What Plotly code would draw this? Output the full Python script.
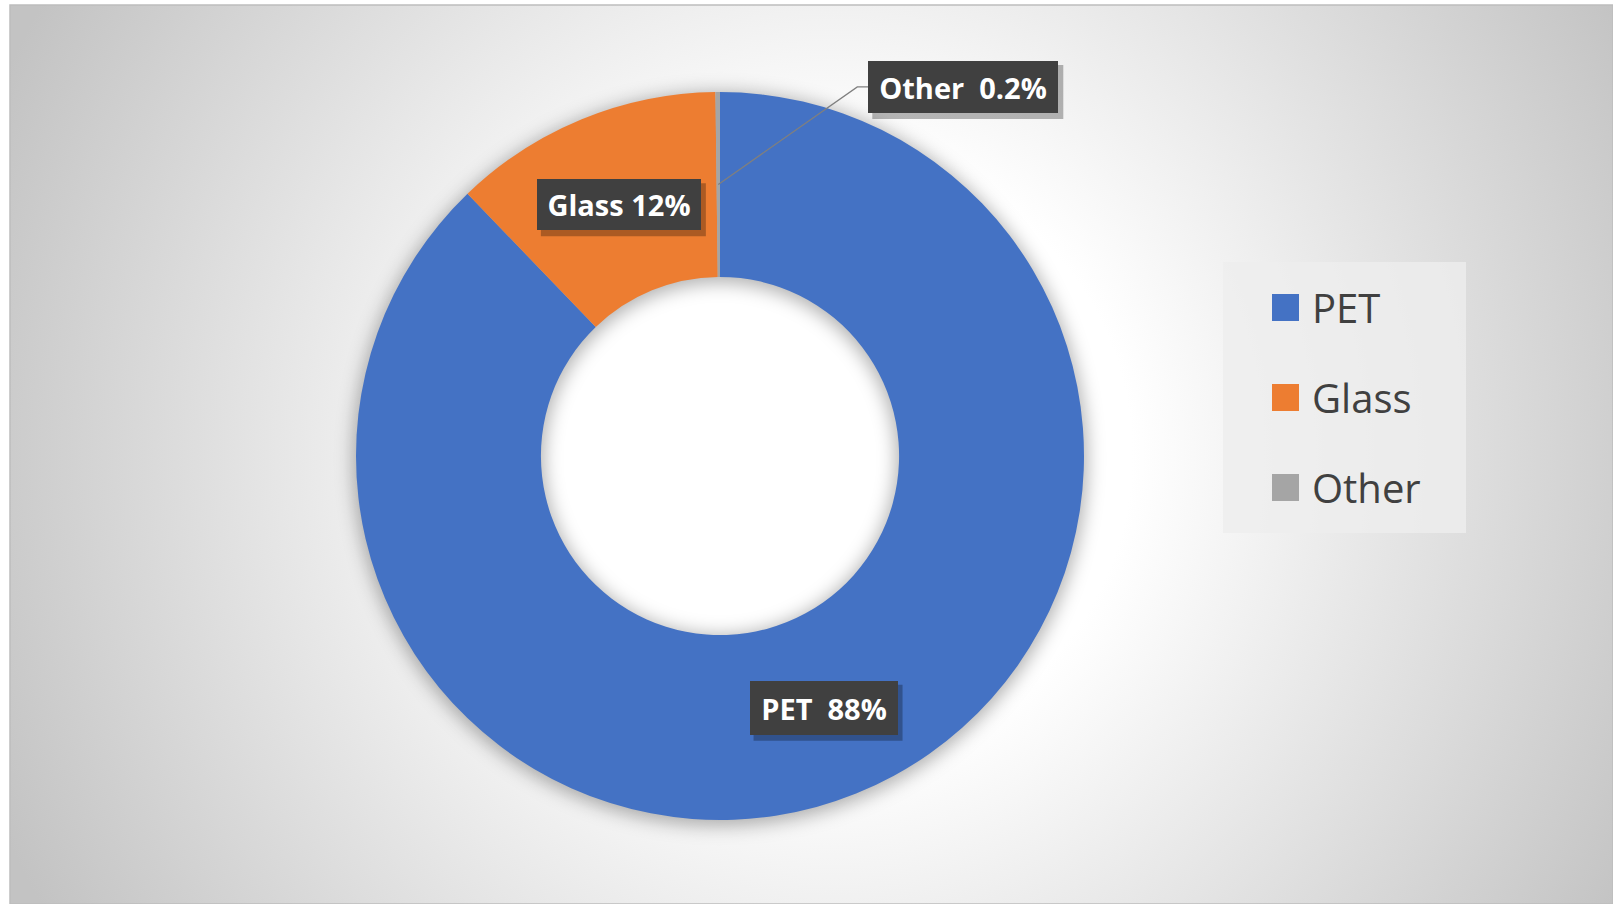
import math
import base64
import plotly.graph_objects as go

# ---------------- data ----------------
categories = ["PET", "Glass", "Other"]
values = [87.8, 12.0, 0.2]
label_texts = ["PET  88%", "Glass 12%", "Other  0.2%"]

# ---------------- style ----------------
colors = ["#4472C4", "#ED7D31", "#A5A5A5"]
W, H = 1613, 904
CX, CY, R = 720, 456, 364          # donut centre / outer radius (px)
HOLE = 0.492
CHART_X0, CHART_Y0 = 10, 5         # chart-area top-left (px)
BOX_SIZES = {"PET": (148, 54), "Glass": (164, 51), "Other": (190, 52)}
OTHER_OFFSET = (245, -97.5)        # manually placed label (px)
LEG_X, LEG_Y0, LEG_DY = 1272, 307.5, 90
LEG_SQ = 27
LEG_BOX = (1223, 262, 1466, 533)
LABEL_FONT = dict(family="Open Sans", size=29, color="white")
LEGEND_FONT = dict(family="Open Sans", size=40, color="#404040")


def px(x):
    return x / W


def py(y):
    return 1 - y / H


# ---------------- background (radial gradient + donut shadow) ----------------
bw, bh = W - CHART_X0, H - CHART_Y0
gcx, gcy = CX - CHART_X0, CY - CHART_Y0
ro, ri = R + 3, R * HOLE - 3
ring = (f"M {gcx-ro} {gcy} a {ro} {ro} 0 1 0 {2*ro} 0 a {ro} {ro} 0 1 0 {-2*ro} 0 Z "
        f"M {gcx-ri} {gcy} a {ri} {ri} 0 1 0 {2*ri} 0 a {ri} {ri} 0 1 0 {-2*ri} 0 Z")
svg = f'''<svg xmlns="http://www.w3.org/2000/svg" width="{bw}" height="{bh}" viewBox="0 0 {bw} {bh}" preserveAspectRatio="none">
<defs>
<radialGradient id="g" gradientUnits="userSpaceOnUse" cx="{bw/2 + 20}" cy="{bh/2}" r="910">
<stop offset="0" stop-color="#FFFFFF"/>
<stop offset="0.33" stop-color="#FFFFFF"/>
<stop offset="1" stop-color="#C3C3C3"/>
</radialGradient>
<filter id="b" x="-30%" y="-30%" width="160%" height="160%"><feGaussianBlur stdDeviation="9"/></filter>
</defs>
<rect x="0" y="0" width="{bw}" height="{bh}" fill="url(#g)"/>
<path d="{ring}" fill="#000000" fill-opacity="0.30" fill-rule="evenodd" filter="url(#b)" transform="translate(0,3)"/>
</svg>'''
svg_uri = "data:image/svg+xml;base64," + base64.b64encode(svg.encode()).decode()

# ---------------- figure ----------------
fig = go.Figure()
fig.add_trace(go.Pie(
    labels=categories,
    values=values,
    hole=HOLE,
    sort=False,
    direction="clockwise",
    rotation=0,
    marker=dict(colors=colors, line=dict(width=0)),
    textinfo="none",
    hoverinfo="label+percent",
    showlegend=False,
    domain=dict(x=[px(CX - R), px(CX + R)], y=[py(CY + R), py(CY - R)]),
))

shapes = []
annotations = []

# chart-area frame
shapes.append(dict(type="rect", xref="paper", yref="paper", layer="below",
                   x0=px(CHART_X0), x1=1, y0=0, y1=py(CHART_Y0),
                   line=dict(color="#BDBDBD", width=1.5), fillcolor="rgba(0,0,0,0)"))

# data labels
total = sum(values)
cum = 0.0
r_mid = R * (1 + HOLE) / 2
for cat, v, txt in zip(categories, values, label_texts):
    frac = (cum + v / 2) / total
    cum += v
    th = 2 * math.pi * frac
    ax_px = CX + r_mid * math.sin(th)
    ay_px = CY - r_mid * math.cos(th)
    bwid, bhei = BOX_SIZES[cat]
    if cat == "Other":
        bx, by = ax_px + OTHER_OFFSET[0], ay_px + OTHER_OFFSET[1]
        left = bx - bwid / 2
        shapes.append(dict(type="path", xref="paper", yref="paper", layer="above",
                           path=f"M {px(ax_px)},{py(ay_px)} L {px(left-11)},{py(by)} L {px(left)},{py(by)}",
                           line=dict(color="#7F7F7F", width=1.3)))
    else:
        bx, by = ax_px + 2, ay_px
    # box shadow
    shapes.append(dict(type="rect", xref="paper", yref="paper", layer="above",
                       x0=px(bx - bwid / 2 + 4), x1=px(bx + bwid / 2 + 5),
                       y0=py(by + bhei / 2 + 6), y1=py(by - bhei / 2 + 4),
                       line=dict(width=0), fillcolor="rgba(0,0,0,0.28)"))
    annotations.append(dict(xref="paper", yref="paper", x=px(bx), y=py(by),
                            xanchor="center", yanchor="middle", showarrow=False,
                            text=f"<b>{txt}</b>", font=LABEL_FONT,
                            width=bwid, height=bhei, borderpad=0, borderwidth=0,
                            bgcolor="#404040", align="center", valign="middle"))

# custom legend
shapes.append(dict(type="rect", xref="paper", yref="paper", layer="below",
                   x0=px(LEG_BOX[0]), x1=px(LEG_BOX[2]), y0=py(LEG_BOX[3]), y1=py(LEG_BOX[1]),
                   line=dict(width=0), fillcolor="rgba(238,238,238,0.8)"))
for i, (cat, col) in enumerate(zip(categories, colors)):
    yc = LEG_Y0 + i * LEG_DY
    shapes.append(dict(type="rect", xref="paper", yref="paper", layer="above",
                       x0=px(LEG_X), x1=px(LEG_X + LEG_SQ),
                       y0=py(yc + LEG_SQ / 2), y1=py(yc - LEG_SQ / 2),
                       line=dict(width=0), fillcolor=col))
    annotations.append(dict(xref="paper", yref="paper", x=px(LEG_X + LEG_SQ + 11), y=py(yc),
                            xanchor="left", yanchor="middle", showarrow=False,
                            text=cat, font=LEGEND_FONT))

fig.update_layout(
    width=W, height=H,
    margin=dict(l=0, r=0, t=0, b=0),
    paper_bgcolor="white",
    plot_bgcolor="white",
    showlegend=False,
    images=[dict(source=svg_uri, xref="paper", yref="paper",
                 x=px(CHART_X0), y=py(CHART_Y0), sizex=bw / W, sizey=bh / H,
                 xanchor="left", yanchor="top", sizing="stretch", layer="below")],
    shapes=shapes,
    annotations=annotations,
)

fig.write_html("out.html",
               config={"displayModeBar": False},
               post_script="document.body.style.margin='0';document.body.style.overflow='hidden';")
